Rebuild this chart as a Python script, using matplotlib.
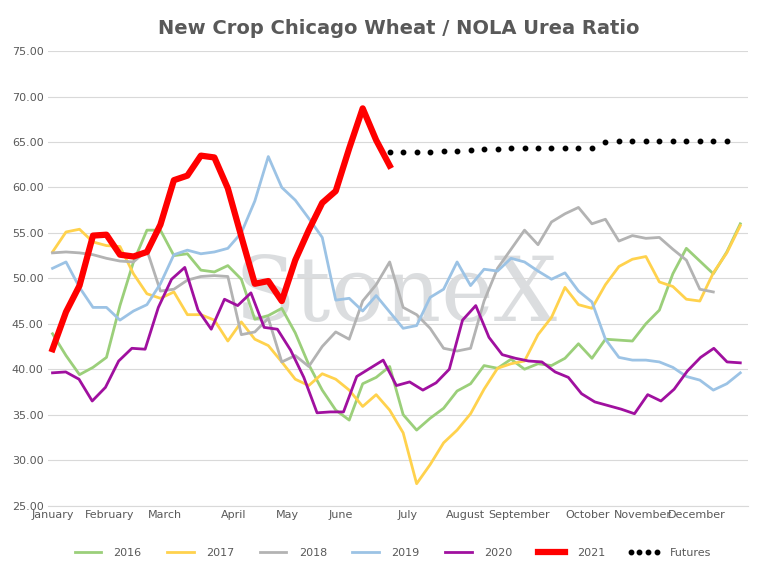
import matplotlib.pyplot as plt
import numpy as np

months = ['January', 'February', 'March', 'April', 'May', 'June', 'July',
          'August', 'September', 'October', 'November', 'December']
month_weeks = [0, 4.2, 8.3, 13.4, 17.4, 21.4, 26.3, 30.6, 34.6, 39.7, 43.8, 47.8]

s2016 = [43.9, 41.5, 39.4, 40.2, 41.3, 47, 51.8, 55.3, 55.3, 52.5, 52.7, 50.9, 50.7, 51.4, 49.9,
         45.5, 45.9, 46.7, 44, 40.5, 37.7, 35.5, 34.4, 38.4, 39.1, 40.3, 35, 33.3, 34.6, 35.7,
         37.6, 38.4, 40.4, 40.1, 41.1, 40, 40.6, 40.4, 41.2, 42.8, 41.2, 43.3, 43.2, 43.1, 45,
         46.5, 50.5, 53.3, 51.9, 50.5, 52.9, 56]
s2017 = [52.9, 55.1, 55.4, 54, 53.6, 53.5, 50.5, 48.3, 47.8, 48.5, 46, 46, 45.4, 43.1, 45.2,
         43.3, 42.6, 40.8, 38.9, 38.2, 39.5, 38.9, 37.7, 35.9, 37.2, 35.5, 33, 27.4, 29.5, 31.9,
         33.3, 35.1, 37.8, 40.1, 40.6, 40.9, 43.8, 45.7, 49, 47.1, 46.7, 49.3, 51.3, 52.1, 52.4,
         49.6, 49.1, 47.7, 47.5, 50.6, 52.8, 55.8]
s2018 = [52.8, 52.9, 52.8, 52.6, 52.2, 51.9, 51.8, 53.1, 48.6, 48.8, 49.8, 50.2, 50.3, 50.2,
         43.8, 44.1, 45.6, 40.8, 41.5, 40.3, 42.5, 44.1, 43.3, 47.5, 49.3, 51.8, 46.8, 46, 44.5,
         42.3, 42, 42.3, 47.5, 51.1, 53.2, 55.3, 53.7, 56.2, 57.1, 57.8, 56, 56.5, 54.1, 54.7,
         54.4, 54.5, 53.2, 52, 48.8, 48.5]
s2019 = [51.1, 51.8, 49, 46.8, 46.8, 45.4, 46.4, 47.1, 49.4, 52.6, 53.1, 52.7, 52.9, 53.3, 55,
         58.5, 63.4, 60, 58.6, 56.6, 54.5, 47.6, 47.8, 46.4, 48.1, 46.3, 44.5, 44.8, 47.9, 48.8,
         51.8, 49.2, 51, 50.8, 52.2, 51.8, 50.8, 49.9, 50.6, 48.6, 47.4, 43.3, 41.3, 41, 41,
         40.8, 40.2, 39.2, 38.8, 37.7, 38.4, 39.6]
s2020 = [39.6, 39.7, 38.9, 36.5, 38, 40.9, 42.3, 42.2, 46.8, 49.9, 51.2, 46.5, 44.4, 47.7, 47,
         48.4, 44.6, 44.4, 42.1, 39.1, 35.2, 35.3, 35.3, 39.2, 40.1, 41, 38.2, 38.6, 37.7, 38.5,
         40, 45.4, 47, 43.5, 41.6, 41.2, 40.9, 40.8, 39.7, 39.1, 37.3, 36.4, 36, 35.6, 35.1,
         37.2, 36.5, 37.8, 39.8, 41.3, 42.3, 40.8, 40.7]
s2021 = [42.2, 46.3, 49.2, 54.7, 54.8, 52.6, 52.4, 52.9, 55.9, 60.8, 61.3, 63.5, 63.3, 59.9,
         54.6, 49.4, 49.7, 47.5, 52, 55.3, 58.3, 59.6, 64.3, 68.7, 65.2, 62.4]
futures = [63.9, 63.9, 63.9, 63.9, 64.0, 64.0, 64.1, 64.2, 64.2, 64.3, 64.3, 64.3, 64.3, 64.3,
           64.3, 64.3, 65.0, 65.1, 65.1, 65.1, 65.1, 65.1, 65.1, 65.1, 65.1, 65.1]

fig = plt.figure(figsize=(7.82, 5.68), dpi=100)
ax = fig.add_axes([0.062, 0.11, 0.895, 0.80])

ax.text(25.5, 48, 'StoneX', fontsize=64, family='DejaVu Serif', color='#9aa0a6',
        alpha=0.35, ha='center', va='center', zorder=0)

def wk(s):
    return np.linspace(0, 51, 52)[:len(s)] if len(s) <= 52 else np.linspace(0, 51, len(s))

ax.plot(wk(s2016), s2016, color='#9bcf7a', lw=2, label='2016')
ax.plot(wk(s2017), s2017, color='#ffd24d', lw=2, label='2017')
ax.plot(wk(s2018), s2018, color='#b3b3b3', lw=2, label='2018')
ax.plot(wk(s2019), s2019, color='#9cc3e5', lw=2, label='2019')
ax.plot(wk(s2020), s2020, color='#a0109f', lw=2, label='2020')
ax.plot(np.arange(len(s2021)), s2021, color='#ff0000', lw=4.5, label='2021')
ax.plot(np.arange(25, 25 + len(futures)), futures, color='black', lw=0, marker='o',
        ms=3.2, label='Futures')

ax.set_ylim(25, 75)
ax.set_xlim(-0.3, 51.6)
ax.set_yticks(np.arange(25, 76, 5))
ax.set_yticklabels([f'{v:.2f}' for v in np.arange(25, 76, 5)])
ax.set_xticks(month_weeks)
ax.set_xticklabels(months)
ax.tick_params(labelsize=8, colors='#595959', length=0)
ax.grid(axis='y', color='#d9d9d9', lw=0.8)
ax.set_axisbelow(True)
for sp in ['top', 'right', 'left']:
    ax.spines[sp].set_visible(False)
ax.spines['bottom'].set_color('#d9d9d9')

ax.set_title('New Crop Chicago Wheat / NOLA Urea Ratio', fontsize=14, fontweight='semibold',
             color='#595959', pad=12)
leg = fig.legend(loc='lower center', ncol=7, frameon=False, fontsize=8, bbox_to_anchor=(0.5, 0.0),
                 handlelength=3, numpoints=4)
for t in leg.get_texts():
    t.set_color('#595959')

fig.savefig('out.png')
